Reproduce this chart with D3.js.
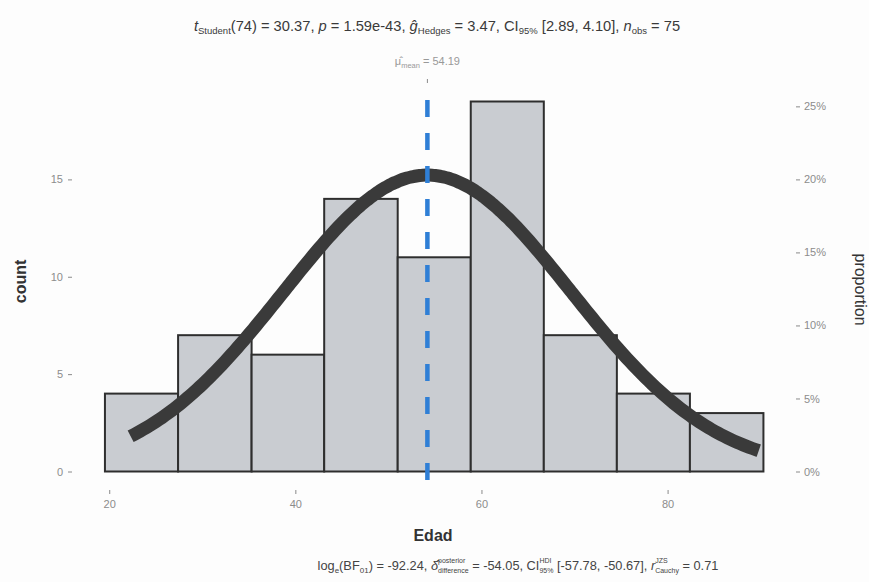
<!DOCTYPE html>
<html>
<head>
<meta charset="utf-8">
<script src="https://cdn.jsdelivr.net/npm/d3@7"></script>
<style>
html,body{margin:0;padding:0;background:#fdfdfd;}
svg{display:block;font-family:"Liberation Sans",Arial,sans-serif;}
</style>
</head>
<body>
<svg id="chart" width="869" height="582"></svg>
<script>
// ---- data ----
const binEdges = [19.54, 27.4, 35.3, 43.1, 51.0, 58.85, 66.7, 74.55, 82.4, 90.3];
const counts = [4, 7, 6, 14, 11, 19, 7, 4, 3];
const nObs = 75;
const meanVal = 54.19;
const sdVal = 15.45;
const curveRange = [22.3, 89.8];
const xTicks = [20, 40, 60, 80];
const yTicks = [0, 5, 10, 15];
const propTicks = [0, 0.05, 0.10, 0.15, 0.20, 0.25];

const svg = d3.select("#chart");
const W = 869, H = 582;
const m = {left: 72, right: 73, top: 83, bottom: 92};

const x = d3.scaleLinear().domain([16.0, 93.8]).range([m.left, W - m.right]);
const y = d3.scaleLinear().domain([-0.95, 19.95]).range([H - m.bottom, m.top]);

const tickCol = "#8a8a8a";
const labCol = "#8c8c8c";

// bars
const bins = counts.map((c, i) => ({x0: binEdges[i], x1: binEdges[i + 1], c}));
svg.append("g").selectAll("rect").data(bins).join("rect")
  .attr("x", d => x(d.x0))
  .attr("width", d => x(d.x1) - x(d.x0))
  .attr("y", d => y(d.c))
  .attr("height", d => y(0) - y(d.c))
  .attr("fill", "#c9ccd1")
  .attr("stroke", "#2e2e2e")
  .attr("stroke-width", 2);

// normal curve (counts scale)
const bw = binEdges[1] - binEdges[0];
const npts = d3.range(0, 201).map(i => curveRange[0] + (curveRange[1] - curveRange[0]) * i / 200);
const dens = v => nObs * bw * Math.exp(-0.5 * ((v - meanVal) / sdVal) ** 2) / (sdVal * Math.sqrt(2 * Math.PI));
svg.append("path")
  .datum(npts)
  .attr("d", d3.line().x(d => x(d)).y(d => y(dens(d))).curve(d3.curveBasis))
  .attr("fill", "none")
  .attr("stroke", "#3a3a3a")
  .attr("stroke-width", 13);

// mean line
svg.append("line")
  .attr("x1", x(meanVal)).attr("x2", x(meanVal))
  .attr("y1", m.top + 17).attr("y2", y(-0.95))
  .attr("stroke", "#2f7fd6")
  .attr("stroke-width", 4.5)
  .attr("stroke-dasharray", "17,16");

// axes
const xAxis = svg.append("g").attr("transform", `translate(0,${H - m.bottom})`)
  .call(d3.axisBottom(x).tickValues(xTicks).tickSize(4).tickPadding(6));
const yAxis = svg.append("g").attr("transform", `translate(${m.left},0)`)
  .call(d3.axisLeft(y).tickValues(yTicks).tickSize(4).tickPadding(5));
const yProp = d3.scaleLinear().domain([-0.95 / nObs, 19.95 / nObs]).range(y.range());
const rAxis = svg.append("g").attr("transform", `translate(${W - m.right},0)`)
  .call(d3.axisRight(yProp).tickValues(propTicks).tickFormat(d3.format(".0%")).tickSize(4).tickPadding(4));
[xAxis, yAxis, rAxis].forEach(a => {
  a.select(".domain").remove();
  a.selectAll("line").attr("stroke", tickCol);
  a.selectAll("text").attr("fill", labCol).style("font-size", "11px");
});
// top mean tick
svg.append("line").attr("x1", x(meanVal)).attr("x2", x(meanVal))
  .attr("y1", m.top - 4).attr("y2", m.top).attr("stroke", tickCol);
const mt = svg.append("text").attr("x", x(meanVal)).attr("y", m.top - 18)
  .attr("text-anchor", "middle").attr("fill", "#999").style("font-size", "11px");
mt.append("tspan").text("μ̂");
mt.append("tspan").attr("dy", 3).style("font-size", "7.5px").text("mean");
mt.append("tspan").attr("dy", -3).text(" = 54.19");

// axis titles
svg.append("text").attr("transform", `translate(26,${(m.top + H - m.bottom) / 2 - 5}) rotate(-90)`)
  .attr("text-anchor", "middle").attr("fill", "#333").style("font-size", "16px").style("font-weight", "bold").text("count");
svg.append("text").attr("transform", `translate(855,${(m.top + H - m.bottom) / 2 + 3}) rotate(90)`)
  .attr("text-anchor", "middle").attr("fill", "#333").style("font-size", "16px").text("proportion");
svg.append("text").attr("x", 433).attr("y", 541)
  .attr("text-anchor", "middle").attr("fill", "#333").style("font-size", "16px").style("font-weight", "bold").text("Edad");

// rich text helper: parts with sub / sup / stacked (sub+sup) support
function rich(sel, parts) {
  let level = 0, pendingDx = 0;
  parts.forEach(p => {
    if (p.stack) {
      const s = sel.append("tspan").text(p.sub).style("font-size", p.fs)
        .attr("dy", 3 - level);
      if (pendingDx) { s.attr("dx", pendingDx); pendingDx = 0; }
      const len = s.node().getComputedTextLength();
      const u = sel.append("tspan").text(p.sup).style("font-size", p.fs)
        .attr("dx", -len).attr("dy", -10);
      const lu = u.node().getComputedTextLength();
      level = -7;
      if (lu < len) pendingDx = len - lu;
      return;
    }
    const t = sel.append("tspan").text(p.t);
    let target = 0;
    if (p.sub) { target = 3; t.style("font-size", p.fs); }
    if (p.sup) { target = -5; t.style("font-size", p.fs); }
    t.attr("dy", target - level);
    if (pendingDx) { t.attr("dx", pendingDx); pendingDx = 0; }
    level = target;
    if (p.i) t.style("font-style", "italic");
  });
}
const sub = svg.append("text").attr("x", 437).attr("y", 31).attr("text-anchor", "middle")
  .attr("fill", "#3a3a3a").style("font-size", "14.7px");
rich(sub, [
  {t: "t", i: true}, {t: "Student", sub: true, fs: "9.5px"}, {t: "(74) = 30.37, "},
  {t: "p", i: true}, {t: " = 1.59e-43, "},
  {t: "ĝ", i: true}, {t: "Hedges", sub: true, fs: "9.5px"}, {t: " = 3.47, CI"},
  {t: "95%", sub: true, fs: "9.5px"}, {t: " [2.89, 4.10], "},
  {t: "n", i: true}, {t: "obs", sub: true, fs: "9.5px"}, {t: " = 75"}
]);

// caption
const cap = svg.append("text").attr("x", 518).attr("y", 570).attr("text-anchor", "middle")
  .attr("fill", "#444").style("font-size", "12.8px");
rich(cap, [
  {t: "log"}, {t: "e", sub: true, fs: "8px"}, {t: "(BF"}, {t: "01", sub: true, fs: "8px"},
  {t: ") = -92.24, "},
  {t: "δ̂", i: true}, {stack: true, sub: "difference", sup: "posterior", fs: "7px"},
  {t: " = -54.05, CI"}, {stack: true, sub: "95%", sup: "HDI", fs: "7px"},
  {t: " [-57.78, -50.67], "},
  {t: "r", i: true}, {stack: true, sub: "Cauchy", sup: "JZS", fs: "7px"},
  {t: " = 0.71"}
]);
</script>
</body>
</html>
